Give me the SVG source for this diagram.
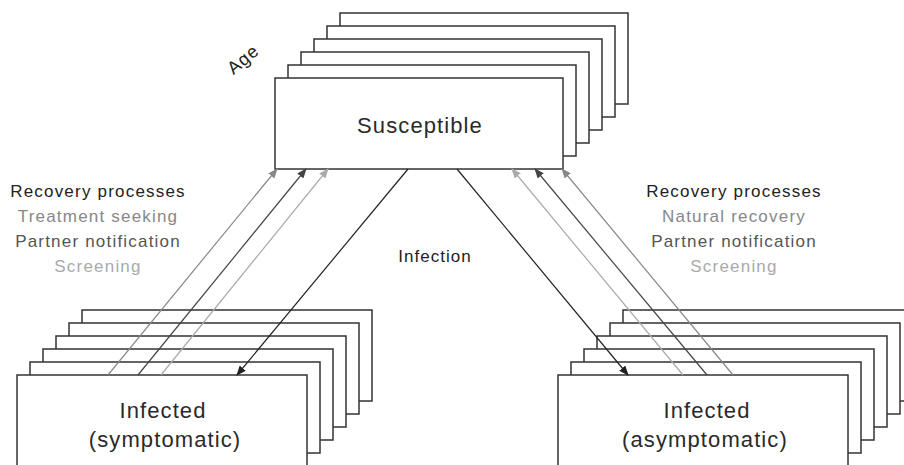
<svg xmlns="http://www.w3.org/2000/svg" width="904" height="465" viewBox="0 0 904 465">
<style>
.box{fill:#fff;stroke:#333;stroke-width:1.5}
.t{font-family:"Liberation Sans",Arial,sans-serif;text-anchor:middle}
.big{font-size:22px;letter-spacing:1.1px;fill:#2a2a2a}
.sm{font-size:17px;letter-spacing:1.2px}
.c1{fill:#222}.c2{fill:#888}.c3{fill:#555}.c4{fill:#aaa}
.a{fill:none;stroke-width:1.2}
</style>
<defs>
<marker id="hK" markerUnits="userSpaceOnUse" markerWidth="10" markerHeight="8" refX="9" refY="4" orient="auto"><path d="M0,0 L10,4 L0,8 z" fill="#222"/></marker>
<marker id="hD" markerUnits="userSpaceOnUse" markerWidth="10" markerHeight="8" refX="9" refY="4" orient="auto"><path d="M0,0 L10,4 L0,8 z" fill="#444"/></marker>
<marker id="hM" markerUnits="userSpaceOnUse" markerWidth="10" markerHeight="8" refX="9" refY="4" orient="auto"><path d="M0,0 L10,4 L0,8 z" fill="#888"/></marker>
<marker id="hL" markerUnits="userSpaceOnUse" markerWidth="10" markerHeight="8" refX="9" refY="4" orient="auto"><path d="M0,0 L10,4 L0,8 z" fill="#aaa"/></marker>
</defs>
<g id="susceptible">
<rect class="box" x="340" y="13" width="288" height="91"/>
<rect class="box" x="327" y="26" width="288" height="91"/>
<rect class="box" x="314" y="39" width="288" height="91"/>
<rect class="box" x="301" y="52" width="288" height="91"/>
<rect class="box" x="288" y="65" width="288" height="91"/>
<rect class="box" x="275" y="78" width="288" height="91"/>
<text class="t big" x="420" y="133">Susceptible</text>
</g>
<g id="age">
<text class="t c1" style="font-size:18px;letter-spacing:1px" transform="translate(247,64) rotate(-40)">Age</text>
</g>
<g id="infected-symptomatic">
<rect class="box" x="82" y="310" width="290" height="91"/>
<rect class="box" x="69" y="323" width="290" height="91"/>
<rect class="box" x="56" y="336" width="290" height="91"/>
<rect class="box" x="43" y="349" width="290" height="91"/>
<rect class="box" x="30" y="362" width="290" height="91"/>
<rect class="box" x="17" y="375" width="290" height="91"/>
<text class="t big" x="163" y="418">Infected</text>
<text class="t big" x="165" y="447">(symptomatic)</text>
</g>
<g id="infected-asymptomatic">
<rect class="box" x="623" y="310" width="290" height="91"/>
<rect class="box" x="610" y="323" width="290" height="91"/>
<rect class="box" x="597" y="336" width="290" height="91"/>
<rect class="box" x="584" y="349" width="290" height="91"/>
<rect class="box" x="571" y="362" width="290" height="91"/>
<rect class="box" x="558" y="375" width="290" height="91"/>
<text class="t big" x="707" y="418">Infected</text>
<text class="t big" x="705" y="447">(asymptomatic)</text>
</g>
<g id="labels-left">
<text class="t sm c1" x="98" y="197">Recovery processes</text>
<text class="t sm c2" x="98" y="222">Treatment seeking</text>
<text class="t sm c3" x="98" y="247">Partner notification</text>
<text class="t sm c4" x="98" y="272">Screening</text>
</g>
<g id="labels-right">
<text class="t sm c1" x="734" y="197">Recovery processes</text>
<text class="t sm c2" x="734" y="222">Natural recovery</text>
<text class="t sm c3" x="734" y="247">Partner notification</text>
<text class="t sm c4" x="734" y="272">Screening</text>
</g>
<g id="label-infection">
<text class="t c1" style="font-size:17px;letter-spacing:1px" x="435" y="262">Infection</text>
</g>
<g id="connectors">
<line class="a" stroke="#888" x1="108" y1="375" x2="277" y2="169" marker-end="url(#hM)"/>
<line class="a" stroke="#444" x1="138" y1="375" x2="306" y2="169" marker-end="url(#hD)"/>
<line class="a" stroke="#aaa" x1="161" y1="375" x2="328" y2="169" marker-end="url(#hL)"/>
<line class="a" stroke="#222" x1="408" y1="169" x2="237" y2="375" marker-end="url(#hK)"/>
<line class="a" stroke="#222" x1="457" y1="169" x2="628" y2="375" marker-end="url(#hK)"/>
<line class="a" stroke="#aaa" x1="683" y1="375" x2="512" y2="169" marker-end="url(#hL)"/>
<line class="a" stroke="#444" x1="707" y1="375" x2="535" y2="169" marker-end="url(#hD)"/>
<line class="a" stroke="#888" x1="733" y1="375" x2="562" y2="169" marker-end="url(#hM)"/>
</g>
</svg>
